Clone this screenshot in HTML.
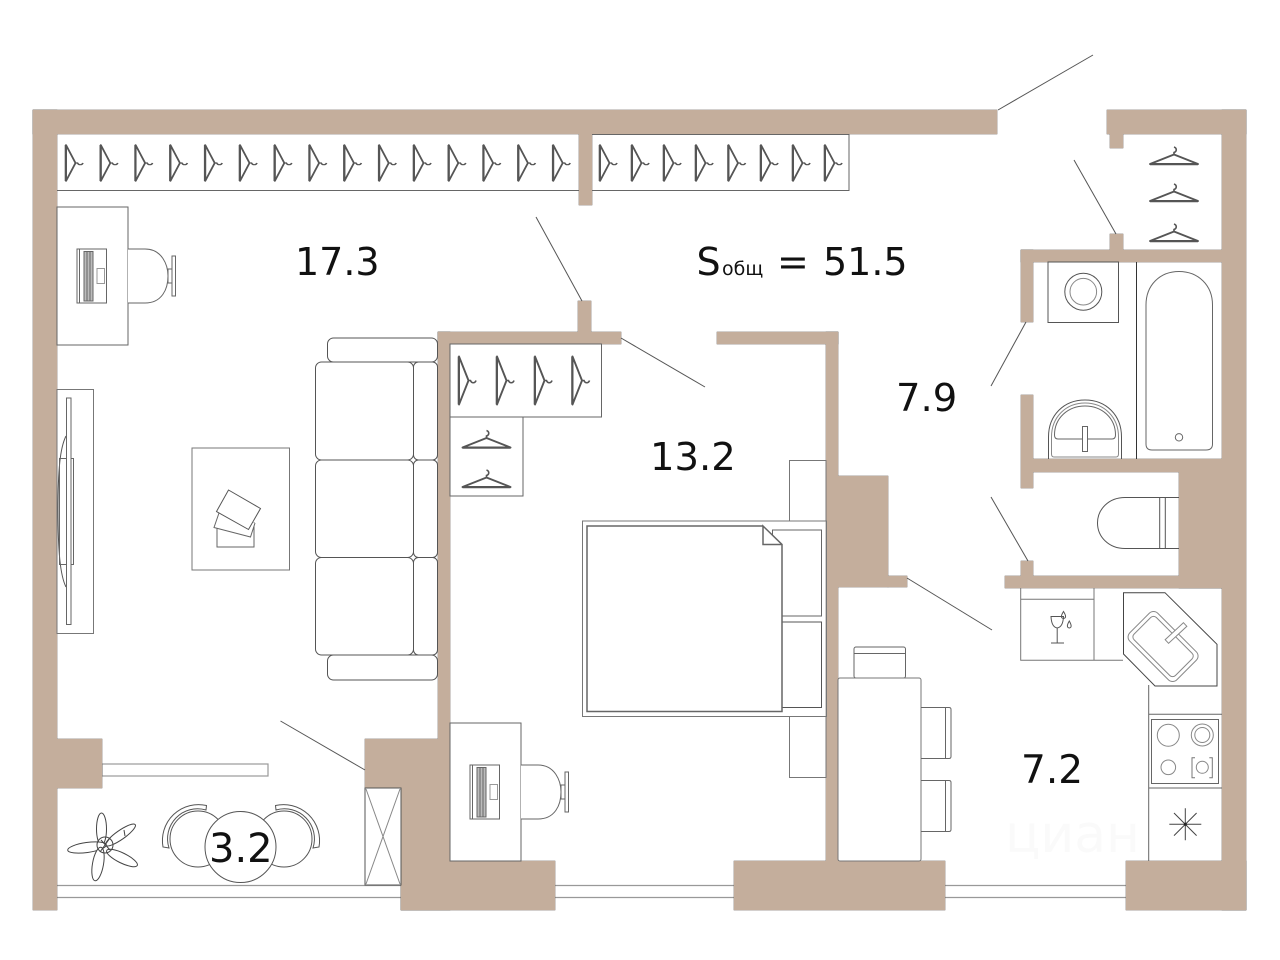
<!DOCTYPE html>
<html><head><meta charset="utf-8"><style>html,body{margin:0;padding:0;background:#fff}svg{display:block}text{font-family:"DejaVu Sans","Liberation Sans",sans-serif;fill:#111}</style></head>
<body>
<svg xmlns="http://www.w3.org/2000/svg" width="1280" height="960" viewBox="0 0 1280 960">
<defs>
<g id="w">
<rect x="33" y="110" width="964" height="24"/>
<rect x="33" y="110" width="24" height="800"/>
<rect x="579" y="134" width="13" height="71"/>
<rect x="57" y="739" width="45" height="49"/>
<rect x="1107" y="110" width="139" height="24"/>
<rect x="1110" y="134" width="13" height="14"/>
<rect x="1222" y="110" width="24" height="800"/>
<rect x="1021" y="250" width="201" height="12"/>
<rect x="1110" y="234" width="13" height="16"/>
<rect x="1021" y="250" width="12" height="72"/>
<rect x="1021" y="395" width="12" height="93"/>
<rect x="1033" y="459" width="189" height="13"/>
<rect x="1179" y="472" width="43" height="116"/>
<rect x="1005" y="576" width="217" height="12"/>
<rect x="1021" y="561" width="12" height="15"/>
<rect x="1126" y="861" width="120" height="49"/>
<rect x="438" y="332" width="183" height="12"/>
<rect x="578" y="301" width="13" height="31"/>
<rect x="717" y="332" width="121" height="12"/>
<rect x="826" y="332" width="12" height="529"/>
<rect x="838" y="476" width="50" height="111"/>
<rect x="888" y="576" width="19" height="11"/>
<rect x="438" y="332" width="12" height="529"/>
<rect x="365" y="739" width="73" height="49"/>
<rect x="401" y="788" width="49" height="122"/>
<rect x="401" y="861" width="154" height="49"/>
<rect x="734" y="861" width="211" height="49"/>
</g>
<g id="h" fill="none" stroke="#555">
<path d="M-24 0L0-9.500L24 0Z" stroke-width="1.900" stroke-linejoin="round"/>
<path d="M-24 .2H24" stroke-width="2.200"/>
<path d="M0-9.500V-11.500C3-12.500 3-16 0-17" stroke-width="1.600"/>
</g>
<g id="d" fill="#fff" stroke="#666" stroke-width="1">
<rect x="0" y="0" width="71" height="138"/>
<rect x="20" y="42" width="29.500" height="54"/>
<path d="M22.500 42V96"/>
<rect x="27" y="44.500" width="9" height="49.500" fill="#bbb"/>
<path d="M30 44.500V94M33 44.500V94"/>
<rect x="40" y="61.500" width="7.500" height="15" stroke="#999"/>
<path d="M71 42H88C105 42 111 58 111 69C111 82 105 96 88 96H71"/>
<rect x="111" y="62" width="4" height="14"/>
<rect x="115" y="49" width="3.500" height="40"/>
</g>
</defs>

<!-- faint watermark -->
<text x="1005" y="852" font-size="52" style="fill:#fafafa">циан</text>
<text x="1130" y="878" font-size="22" style="fill:#f8f5f2">21</text>

<!-- windows -->
<g stroke="#999" stroke-width="1.200" fill="none">
<path d="M57 885.500H401M57 897.500H401M555 885.500H734M555 897.500H734M945 885.500H1126M945 897.500H1126"/>
<rect x="102" y="764" width="166" height="12"/>
</g>

<!-- walls -->
<use href="#w" fill="#6e655e" stroke="#6e655e" stroke-width=".6"/>
<use href="#w" fill="#c4ae9c"/>

<g fill="none" stroke="#666" stroke-width="1">
<!-- wardrobes -->
<path d="M57 190.500H579M592 134.500H849V190.500H592"/>
<rect x="450" y="344" width="151.500" height="73"/>
<rect x="450" y="417" width="73" height="79"/>

<!-- door lines -->
<g stroke="#555">
<path d="M998 110L1093 55"/>
<path d="M1074 160L1116 234"/>
<path d="M1026 322L991 386"/>
<path d="M991 497L1028 561"/>
<path d="M907 578L992 630"/>
<path d="M621 338L705 387"/>
<path d="M536 217L582 301"/>
<path d="M280.500 721L365 770"/>
</g>

<!-- sofa -->
<g stroke="#555">
<rect x="327.500" y="338" width="110" height="24" rx="6"/>
<rect x="327.500" y="655" width="110" height="25" rx="6"/>
<rect x="315.500" y="362" width="98" height="98" rx="6" fill="#fff"/>
<rect x="315.500" y="460" width="98" height="97.500" rx="6" fill="#fff"/>
<rect x="315.500" y="557.500" width="98" height="97.500" rx="6" fill="#fff"/>
<rect x="413.500" y="362" width="24" height="98" rx="5" fill="#fff"/>
<rect x="413.500" y="460" width="24" height="97.500" rx="5" fill="#fff"/>
<rect x="413.500" y="557.500" width="24" height="97.500" rx="5" fill="#fff"/>
</g>

<!-- coffee table -->
<rect x="192" y="448" width="97.500" height="122" stroke="#777"/>
<path d="M217 528V547H254V522" stroke="#666"/>
<path d="M219 513L214 527.500L250.500 537L255 523" fill="#fff"/>
<path d="M228.500 490L260.500 508.500L248.500 529.500L216.500 511.500Z" fill="#fff" stroke="#555"/>

<!-- TV -->
<rect x="57" y="389.500" width="36.500" height="244" stroke="#777"/>
<path d="M66 436C60 448 58 470 58 510C58 550 60 575 66 587" stroke="#555"/>
<rect x="59.500" y="458.500" width="14" height="106"/>
<rect x="66.500" y="398" width="4.500" height="226.500" fill="#fff"/>

<!-- bed -->
<rect x="582.500" y="521" width="244" height="195.500" stroke="#777"/>
<rect x="789.500" y="460.500" width="36.500" height="60.500" stroke="#777"/>
<rect x="789.500" y="716.500" width="36.500" height="61" stroke="#777"/>
<rect x="772.500" y="530" width="49" height="86" stroke="#666"/>
<rect x="782" y="622" width="39.500" height="85.500" stroke="#555"/>
<path d="M763 526H587V711.500H782V544.500L763 526V544.500H782" fill="#fff" stroke="#666" stroke-width="1.500"/>

<!-- dining -->
<rect x="854" y="647" width="51.500" height="31" rx="2" stroke="#666"/>
<path d="M854 653.500H905.500"/>
<rect x="838" y="678" width="83" height="183" rx="2" stroke="#777" fill="#fff"/>
<path d="M921 707.500H949Q951 707.500 951 709.500V756.500Q951 758.500 949 758.500H921M945.500 707.500V758.500"/>
<path d="M921 780.500H949Q951 780.500 951 782.500V829.500Q951 831.500 949 831.500H921M945.500 780.500V831.500"/>

<!-- balcony storage -->
<rect x="365" y="788" width="36" height="97" stroke="#555"/>
<path d="M366 789L400 884M400 789L366 884" stroke="#888"/>

<!-- chairs and table -->
<g stroke="#555">
<circle cx="198" cy="839" r="28"/>
<circle cx="284" cy="839" r="28"/>
<path d="M206.500 805.500A36 36 0 0 0 163 847L169 848A30 30 0 0 1 206 810Z" fill="#fff"/>
<path d="M275.500 805.500A36 36 0 0 1 319 847L313 848A30 30 0 0 0 276 810Z" fill="#fff"/>
<circle cx="240.500" cy="847" r="35.500" fill="#fff"/>
</g>

<!-- plant -->
<g stroke="#444" fill="#fff">
<ellipse cx="101.500" cy="829" rx="5" ry="16"/>
<ellipse cx="120.500" cy="835" rx="18" ry="4.500" transform="rotate(-35 120.500 835)"/>
<ellipse cx="87" cy="847.500" rx="19.500" ry="5" transform="rotate(-8 87 847.500)"/>
<ellipse cx="98" cy="864" rx="5.500" ry="17" transform="rotate(10 98 864)"/>
<ellipse cx="122" cy="858" rx="17" ry="5" transform="rotate(26 122 858)"/>
<circle cx="105" cy="845" r="8" fill="none"/>
<path d="M101 840L110 850M110 838L100 852M125 836L124 830" fill="none"/>
</g>

<!-- bathroom -->
<rect x="1048" y="262" width="70.500" height="60.500" stroke="#555"/>
<circle cx="1083.300" cy="291.700" r="18.500" stroke="#555"/>
<circle cx="1083.300" cy="291.700" r="13.300" stroke="#888"/>
<path d="M1136.500 262V459" stroke="#333"/>
<path d="M1146 305C1146 285 1160 271.500 1179 271.500C1198 271.500 1212.500 285 1212.500 305V444Q1212.500 450 1206 450H1152Q1146 450 1146 444Z" stroke="#666"/>
<circle cx="1179" cy="437.300" r="3.700"/>
<path d="M1048.500 459V437C1048.500 415 1064 400 1085 400C1106 400 1121.500 415 1121.500 437V459" stroke="#555"/>
<path d="M1051.500 454V437C1051.500 417 1066 403 1085 403C1104 403 1118.500 417 1118.500 437V454Q1118.500 457 1116 457H1054Q1051.500 457 1051.500 454Z" stroke="#888"/>
<path d="M1054.500 435C1054.500 418 1068 406 1085 406C1102 406 1115.500 418 1115.500 435Q1115.500 439 1112 439H1058Q1054.500 439 1054.500 435Z" stroke="#666"/>
<rect x="1082.500" y="426.500" width="5" height="25" fill="#fff"/>
<path d="M1179 497.500H1125C1109 497.500 1097.500 509 1097.500 523C1097.500 537 1109 548.500 1125 548.500H1179M1159.700 497.500V548.500M1165.300 497.500V548.500" stroke="#555"/>

<!-- kitchen -->
<path d="M1020.700 588V660.300H1123M1094 588V660.300M1020.700 599.300H1094" stroke="#777"/>
<path d="M1051 616.500H1063.500Q1063 627 1057.200 628Q1051.500 627 1051 616.500ZM1057.200 628V643M1051 643H1064" stroke="#555"/>
<path d="M1063.500 611.500C1061 615.500 1060.500 618 1063.500 618.500C1066.500 618 1066 615.500 1063.500 611.500ZM1069.300 621C1067 625 1066.500 627.500 1069.300 628C1072 627.500 1071.500 625 1069.300 621Z" stroke="#555"/>
<path d="M1123.500 592.700H1165L1217 644.300V686H1155L1123.500 654Z" stroke="#444"/>
<g transform="rotate(45 1163 646.500)" stroke="#888">
<rect x="1129.800" y="626.700" width="66.500" height="39.500" rx="6"/>
<rect x="1133.800" y="630.700" width="58.500" height="31.500" rx="4"/>
</g>
<rect x="1163.500" y="630.500" width="25" height="5" transform="rotate(-43 1176 633)" fill="#fff" stroke="#888"/>
<path d="M1148.700 685V861M1148.700 714.300H1222M1148.700 788H1222" stroke="#666"/>
<rect x="1151.500" y="719.500" width="67" height="64" stroke="#666"/>
<circle cx="1168.300" cy="735.300" r="11" stroke="#888"/>
<circle cx="1202.300" cy="735" r="11" stroke="#888"/>
<circle cx="1202.300" cy="735" r="7.500" stroke="#888"/>
<circle cx="1168.300" cy="767.300" r="7.300" stroke="#888"/>
<circle cx="1202.300" cy="767.300" r="6" stroke="#888"/>
<path d="M1195 757.700H1192V777.700H1195M1209.300 757.700H1212.300V777.700H1209.300" stroke="#777"/>
<path d="M1185.300 808.300V840.300M1169.300 824.300H1201.300M1174 813L1196.600 835.600M1196.600 813L1174 835.600" stroke="#444"/>
</g>
<circle cx="1185.300" cy="824.300" r="1.500" fill="#222"/>

<!-- desks -->
<use href="#d" x="57" y="207"/>
<use href="#d" x="450" y="723"/>

<!-- hangers -->
<use href="#h" transform="translate(66,163) rotate(90) scale(.75,1)"/>
<use href="#h" transform="translate(100.800,163) rotate(90) scale(.75,1)"/>
<use href="#h" transform="translate(135.600,163) rotate(90) scale(.75,1)"/>
<use href="#h" transform="translate(170.400,163) rotate(90) scale(.75,1)"/>
<use href="#h" transform="translate(205.200,163) rotate(90) scale(.75,1)"/>
<use href="#h" transform="translate(240,163) rotate(90) scale(.75,1)"/>
<use href="#h" transform="translate(274.800,163) rotate(90) scale(.75,1)"/>
<use href="#h" transform="translate(309.600,163) rotate(90) scale(.75,1)"/>
<use href="#h" transform="translate(344.400,163) rotate(90) scale(.75,1)"/>
<use href="#h" transform="translate(379.200,163) rotate(90) scale(.75,1)"/>
<use href="#h" transform="translate(414,163) rotate(90) scale(.75,1)"/>
<use href="#h" transform="translate(448.800,163) rotate(90) scale(.75,1)"/>
<use href="#h" transform="translate(483.600,163) rotate(90) scale(.75,1)"/>
<use href="#h" transform="translate(518.400,163) rotate(90) scale(.75,1)"/>
<use href="#h" transform="translate(553.200,163) rotate(90) scale(.75,1)"/>
<use href="#h" transform="translate(600,163) rotate(90) scale(.75,1)"/>
<use href="#h" transform="translate(632,163) rotate(90) scale(.75,1)"/>
<use href="#h" transform="translate(664,163) rotate(90) scale(.75,1)"/>
<use href="#h" transform="translate(696,163) rotate(90) scale(.75,1)"/>
<use href="#h" transform="translate(728.500,163) rotate(90) scale(.75,1)"/>
<use href="#h" transform="translate(761,163) rotate(90) scale(.75,1)"/>
<use href="#h" transform="translate(793,163) rotate(90) scale(.75,1)"/>
<use href="#h" transform="translate(825,163) rotate(90) scale(.75,1)"/>
<use href="#h" transform="translate(459,380.500) rotate(90)"/>
<use href="#h" transform="translate(497,380.500) rotate(90)"/>
<use href="#h" transform="translate(535,380.500) rotate(90)"/>
<use href="#h" transform="translate(572.500,380.500) rotate(90)"/>
<use href="#h" transform="translate(486.500,447.500)"/>
<use href="#h" transform="translate(486.500,487)"/>
<use href="#h" transform="translate(1174,164)"/>
<use href="#h" transform="translate(1174,201)"/>
<use href="#h" transform="translate(1174,241)"/>

<!-- labels -->
<text x="295" y="275" font-size="38">17.3</text>
<text x="650" y="470" font-size="38.500">13.2</text>
<text x="896" y="411" font-size="38.500">7.9</text>
<text x="1021" y="783" font-size="39">7.2</text>
<text x="209" y="862" font-size="40">3.2</text>
<text x="696.500" y="275" font-size="38">S</text>
<text x="722" y="275" font-size="19">общ</text>
<text x="777" y="275" font-size="38">=</text>
<text x="823" y="275" font-size="38">51.5</text>
</svg>
</body></html>
